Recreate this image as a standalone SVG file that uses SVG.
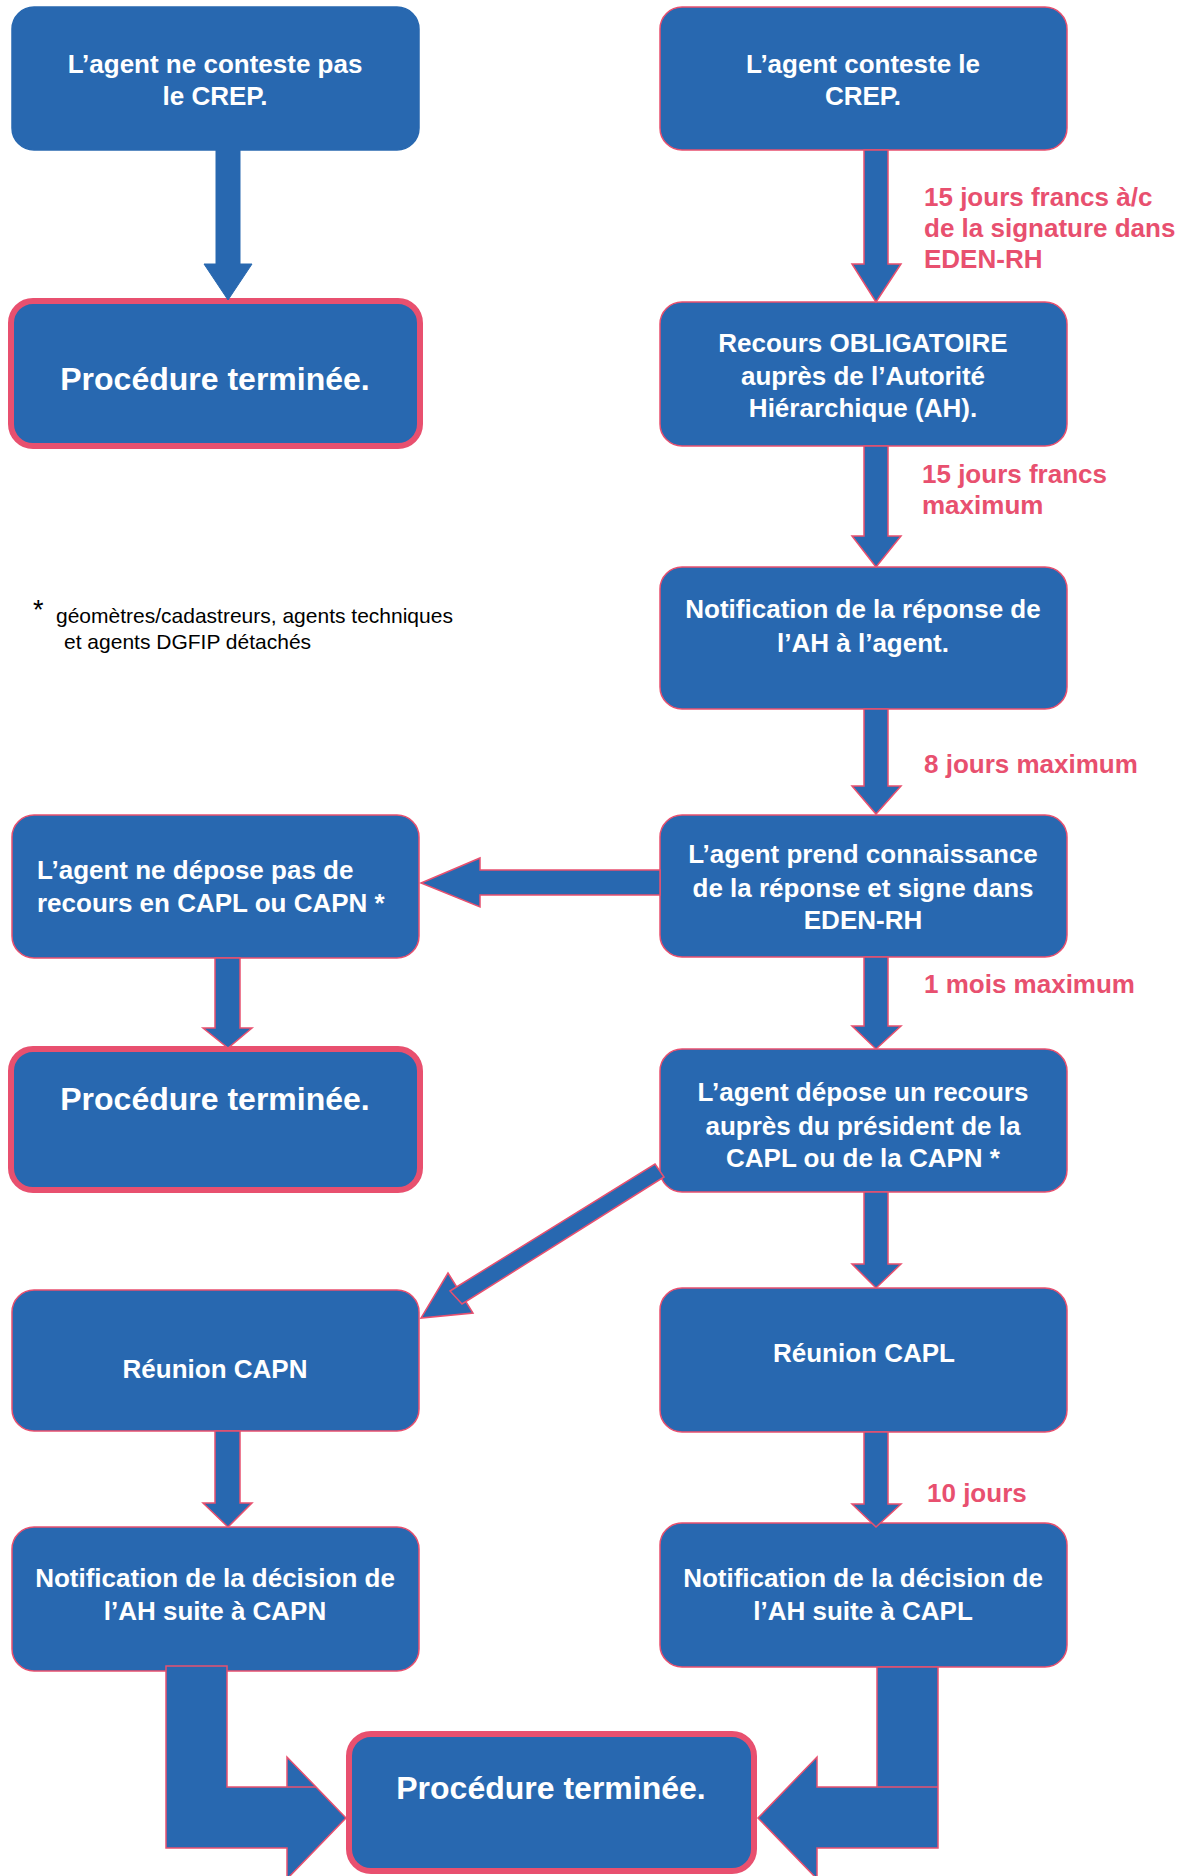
<svg xmlns="http://www.w3.org/2000/svg" width="1192" height="1876" viewBox="0 0 1192 1876">
<style>
.box{fill:#2868B0;stroke:#E8506F;stroke-width:1.5}
.plain{fill:#2868B0;stroke:#2868B0;stroke-width:1.5}
.end{fill:#2868B0;stroke:#E8506F;stroke-width:6}
.t{font-family:"Liberation Sans",Arial,sans-serif;font-weight:bold;font-size:26px;fill:#FFFFFF;text-anchor:middle}
.tl{font-family:"Liberation Sans",Arial,sans-serif;font-weight:bold;font-size:26px;fill:#FFFFFF}
.big{font-size:32px}
.lab{font-family:"Liberation Sans",Arial,sans-serif;font-weight:bold;font-size:26px;fill:#E8506F}
.arr{fill:#2868B0;stroke:#E8506F;stroke-width:1.5;stroke-linejoin:miter}
.arrb{fill:#2868B0;stroke:#2868B0;stroke-width:1}
.ln{fill:none;stroke:#E8506F;stroke-width:1.5}
.note{font-family:"Liberation Sans",Arial,sans-serif;font-size:21px;fill:#000000}
</style>
<rect width="1192" height="1876" fill="#FFFFFF"/>

<g id="nodeA">
<rect class="plain" x="12" y="7" width="407" height="143" rx="22"/>
<text class="t" x="215" y="73">L’agent ne conteste pas</text>
<text class="t" x="215" y="105">le CREP.</text>
</g>
<g id="nodeB">
<rect class="end" x="11" y="301" width="409" height="145" rx="22"/>
<text class="t big" x="215" y="390">Procédure terminée.</text>
</g>
<g id="nodeC">
<rect class="box" x="660" y="7" width="407" height="143" rx="22"/>
<text class="t" x="863" y="73">L’agent conteste le</text>
<text class="t" x="863" y="105">CREP.</text>
</g>
<g id="nodeD">
<rect class="box" x="660" y="302" width="407" height="144" rx="22"/>
<text class="t" x="863" y="352">Recours OBLIGATOIRE</text>
<text class="t" x="863" y="385">auprès de l’Autorité</text>
<text class="t" x="863" y="417">Hiérarchique (AH).</text>
</g>
<g id="nodeE">
<rect class="box" x="660" y="567" width="407" height="142" rx="22"/>
<text class="t" x="863" y="618">Notification de la réponse de</text>
<text class="t" x="863" y="652">l’AH à l’agent.</text>
</g>
<g id="nodeF">
<rect class="box" x="660" y="815" width="407" height="142" rx="22"/>
<text class="t" x="863" y="863">L’agent prend connaissance</text>
<text class="t" x="863" y="897">de la réponse et signe dans</text>
<text class="t" x="863" y="929">EDEN-RH</text>
</g>
<g id="nodeG">
<rect class="box" x="12" y="815" width="407" height="143" rx="22"/>
<text class="tl" x="37" y="879">L’agent ne dépose pas de</text>
<text class="tl" x="37" y="912">recours en CAPL ou CAPN *</text>
</g>
<g id="nodeH">
<rect class="end" x="11" y="1049" width="409" height="141" rx="22"/>
<text class="t big" x="215" y="1110">Procédure terminée.</text>
</g>
<g id="nodeI">
<rect class="box" x="660" y="1049" width="407" height="143" rx="22"/>
<text class="t" x="863" y="1101">L’agent dépose un recours</text>
<text class="t" x="863" y="1135">auprès du président de la</text>
<text class="t" x="863" y="1167">CAPL ou de la CAPN *</text>
</g>
<g id="nodeJ">
<rect class="box" x="12" y="1290" width="407" height="141" rx="22"/>
<text class="t" x="215" y="1378">Réunion CAPN</text>
</g>
<g id="nodeK">
<rect class="box" x="660" y="1288" width="407" height="144" rx="22"/>
<text class="t" x="864" y="1362">Réunion CAPL</text>
</g>
<g id="nodeL">
<rect class="box" x="12" y="1527" width="407" height="144" rx="22"/>
<text class="t" x="215" y="1587">Notification de la décision de</text>
<text class="t" x="215" y="1620">l’AH suite à CAPN</text>
</g>
<g id="nodeM">
<rect class="box" x="660" y="1523" width="407" height="144" rx="22"/>
<text class="t" x="863" y="1587">Notification de la décision de</text>
<text class="t" x="863" y="1620">l’AH suite à CAPL</text>
</g>
<g id="nodeN">
<rect class="end" x="349" y="1734" width="405" height="137" rx="22"/>
<text class="t big" x="551" y="1799">Procédure terminée.</text>
</g>

<g id="connectors">
<polygon class="arrb" points="216,150 240,150 240,264 252,264 228,300 204,264 216,264"/>
<polygon class="arr" points="864,150 888,150 888,264 901,264 876,302 852,264 864,264"/>
<polygon class="arr" points="864,446 888,446 888,536 901,536 876,567 852,536 864,536"/>
<polygon class="arr" points="864,709 888,709 888,786 901,786 876,814 852,786 864,786"/>
<polygon class="arr" points="864,957 888,957 888,1026 901,1026 876,1049 852,1026 864,1026"/>
<polygon class="arr" points="864,1192 888,1192 888,1264 901,1264 876,1288 852,1264 864,1264"/>
<polygon class="arr" points="864,1432 888,1432 888,1504 901,1504 876,1527 852,1504 864,1504"/>
<polygon class="arr" points="215,958 240,958 240,1028 252,1028 228,1048 203,1028 215,1028"/>
<polygon class="arr" points="215,1431 240,1431 240,1503 252,1503 228,1527 203,1503 215,1503"/>
<polygon class="arr" points="660,870 480,870 480,858 421,883 480,907 480,895 660,895"/>
<polygon class="arr" points="448,1273 473,1313 421,1318"/>
<polygon class="arr" points="655,1164 664,1177 462,1304 450,1291"/>
<polygon class="arr" points="166,1666 227,1666 227,1787 287,1787 287,1757 346,1818 287,1879 287,1848 166,1848"/>
<line class="ln" x1="287" y1="1787" x2="316" y2="1787"/>
<polygon class="arr" points="877,1667 938,1667 938,1848 817,1848 817,1879 758,1818 817,1757 817,1787 877,1787"/>
<line class="ln" x1="877" y1="1787" x2="938" y2="1787"/>
</g>

<g id="labels">
<text class="lab" x="924" y="206">15 jours francs à/c</text>
<text class="lab" x="924" y="237">de la signature dans</text>
<text class="lab" x="924" y="268">EDEN-RH</text>
<text class="lab" x="922" y="483">15 jours francs</text>
<text class="lab" x="922" y="514">maximum</text>
<text class="lab" x="924" y="773">8 jours maximum</text>
<text class="lab" x="924" y="993">1 mois maximum</text>
<text class="lab" x="927" y="1502">10 jours</text>
</g>

<g id="footnote">
<text class="note" x="33" y="619" style="font-size:27px">*</text>
<text class="note" x="56" y="623">géomètres/cadastreurs, agents techniques</text>
<text class="note" x="64" y="649">et agents DGFIP détachés</text>
</g>
</svg>
